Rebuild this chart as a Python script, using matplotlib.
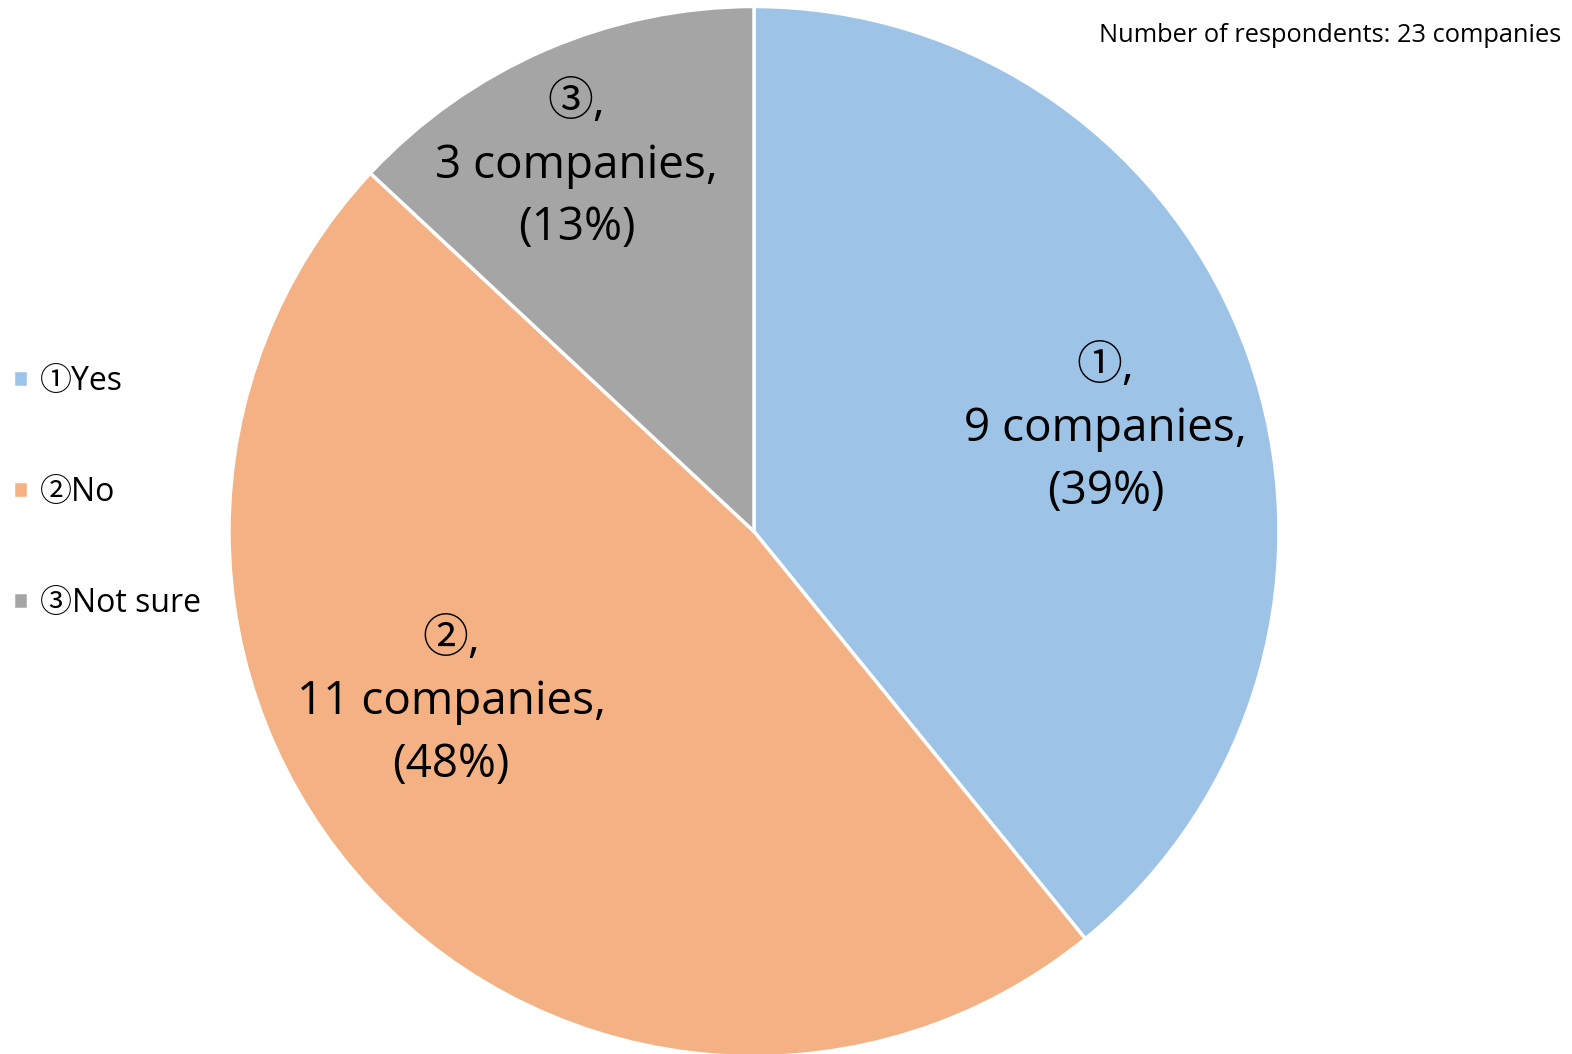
import matplotlib.pyplot as plt

# data
labels = ['①Yes', '②No', '③Not sure']
short_labels = ['①', '②', '③']
counts = [9, 11, 3]
colors = ['#9DC3E6', '#F4B183', '#A5A5A5']
total_note = 'Number of respondents: 23 companies'

FONT = ['Open Sans', 'Noto Sans CJK JP', 'DejaVu Sans']
plt.rcParams['font.family'] = FONT

W, H = 1572, 1054
fig = plt.figure(figsize=(W / 100, H / 100), dpi=100)

# pie axes placed so the circle sits where it does in the original
cx, cy, r = 754, 531.5, 525
ax = fig.add_axes([(cx - r) / W, (H - cy - r) / H, 2 * r / W, 2 * r / H])

wedges, _ = ax.pie(counts, colors=colors, startangle=90, counterclock=False,
                   radius=1, wedgeprops=dict(edgecolor='white', linewidth=2.5))
ax.set_xlim(-1, 1)
ax.set_ylim(-1, 1)
ax.set_aspect('equal')
ax.axis('off')

# label positions (data units, radius = 1), as Excel placed them
label_pos = [(0.670, 0.195), (-0.577, -0.325), (-0.338, 0.697)]
total = sum(counts)
for (x, y), s, n in zip(label_pos, short_labels, counts):
    pct = round(100 * n / total)
    ax.text(x, y, f'{s},\n{n} companies,\n({pct}%)', ha='center', va='center',
            fontsize=33, linespacing=1.47, color='black')

fig.legend(wedges, labels, loc='center left', bbox_to_anchor=(0.0, 0.533),
           frameon=False, fontsize=23, handlelength=0.47, handleheight=0.47,
           handletextpad=0.37, labelspacing=2.44, borderaxespad=0)

fig.text(0.993, 0.966, total_note, ha='right', va='center', fontsize=18.3)

fig.savefig('out.png', dpi=100)
